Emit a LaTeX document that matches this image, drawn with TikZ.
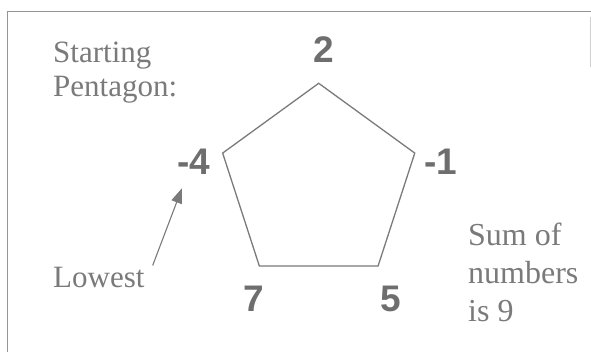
\documentclass[tikz,border=0pt]{standalone}
\usepackage{fontspec}
\setmainfont{Liberation Serif}
\setsansfont{Liberation Sans}
\usepackage{xcolor}
\usetikzlibrary{arrows.meta, positioning, shapes.geometric, calc}

\definecolor{inkgray}{HTML}{7A7A7A}
\definecolor{numgray}{HTML}{6E6E6E}

\begin{document}
\begin{tikzpicture}[
      x=1pt, y=-1pt,
      label text/.style={inner sep=2pt, align=left, text=inkgray,
        font=\fontsize{31}{34}\selectfont},
      corner num/.style={inner sep=2pt, text=numgray,
        font=\sffamily\bfseries\fontsize{37}{40}\selectfont},
      pentagon/.style={regular polygon, regular polygon sides=5, draw=inkgray,
        line width=1.3pt, minimum size=202pt, inner sep=0pt},
      pointer/.style={draw=inkgray, line width=1.1pt,
        -{Triangle[length=15pt, width=11pt]}}
    ]
      \useasboundingbox (0,0) rectangle (591,352);
      % frame
      \draw[inkgray!80, line width=1pt] (7.5,352) -- (7.5,11.5) -- (591,11.5);
      \draw[inkgray!35, line width=0.8pt] (590,17) -- (590,67);

      \node[pentagon] (pent) at (318.7,184.3) {};

      \node[corner num, anchor=base] (n2) at (324,63) {2};
      \node[corner num, anchor=base] (m4) at (193.5,175) {-4};
      \node[corner num, anchor=base] (m1) at (441,175) {-1};
      \node[corner num, anchor=base] (n7) at (254,312) {7};
      \node[corner num, anchor=base] (n5) at (391,312) {5};

      % base of a multi-line node is its last line
      \node[label text, anchor=base west] (start) at (51,97) {Starting\\Pentagon:};
      \node[label text, anchor=base west] (lowest) at (51,288) {Lowest};
      \node[label text, anchor=base west, font=\fontsize{32}{38}\selectfont]
        (sum) at (466,321) {Sum of\\numbers\\is 9};

      \draw[pointer] ([xshift=6pt]lowest.north east) -- ([shift={(-11.5,11)}]m4.south);
    \end{tikzpicture}
\end{document}
